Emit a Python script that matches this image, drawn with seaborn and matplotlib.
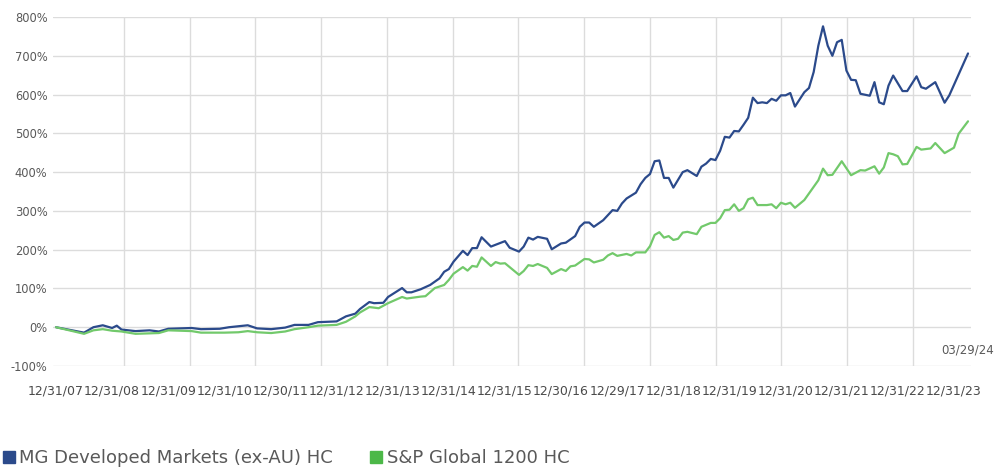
import numpy as np
import pandas as pd
from matplotlib import pyplot as plt
from matplotlib.lines import Line2D
from matplotlib.ticker import FuncFormatter
import seaborn as sns

sns.set_theme(style="white")
plt.rcParams['font.family'] = ['DejaVu Sans']

# months since 12/31/07, cumulative return in %
mg_month = [0, 6, 8, 10, 12, 13, 14, 17, 20, 22, 24, 29, 31, 35, 37, 41, 43, 46, 49, 51,
            54, 56, 60, 62, 64, 65, 67, 68, 70, 71, 74, 75, 76, 78, 80, 82, 83, 84, 85, 87,
            88, 89, 90, 91, 93, 96, 97, 99, 100, 101, 102, 103, 105, 106, 108, 109, 111, 112, 113, 114,
            115, 117, 119, 120, 121, 122, 124, 125, 126, 127, 128, 129, 130, 131, 132, 134, 135, 137, 138, 139,
            140, 141, 142, 143, 144, 145, 146, 147, 148, 149, 150, 151, 152, 153, 154, 155, 156, 157, 158, 160,
            161, 162, 163, 164, 165, 166, 167, 168, 169, 170, 171, 172, 174, 175, 176, 177, 178, 179, 181, 182,
            184, 185, 186, 188, 190, 191, 195]
mg_value = [0, -14, 0, 5, -2, 4, -6, -10, -8, -11, -4, -2, -5, -4, 0, 5, -3, -5, -1, 6,
            6, 13, 15, 28, 35, 47, 65, 62, 63, 78, 101, 90, 90, 98, 109, 126, 143, 150, 169, 197,
            186, 204, 204, 232, 208, 222, 205, 195, 208, 231, 226, 233, 228, 201, 216, 218, 235, 259, 270, 270,
            259, 276, 302, 300, 319, 332, 347, 369, 385, 395, 428, 430, 385, 385, 360, 400, 405, 390, 414, 422,
            434, 431, 455, 491, 489, 506, 505, 522, 540, 592, 578, 580, 578, 589, 584, 598, 598, 604, 569, 606,
            617, 658, 726, 776, 726, 700, 735, 741, 662, 638, 637, 602, 597, 632, 580, 575, 623, 649, 609, 609,
            647, 619, 615, 632, 579, 598, 706]

sp_month = [0, 6, 8, 10, 12, 14, 17, 22, 24, 29, 31, 36, 39, 41, 43, 46, 49, 51, 54, 56,
            60, 62, 64, 65, 67, 69, 71, 74, 75, 78, 79, 81, 83, 84, 85, 87, 88, 89, 90, 91,
            93, 94, 95, 96, 97, 99, 100, 101, 102, 103, 105, 106, 108, 109, 110, 111, 113, 114, 115, 117,
            118, 119, 120, 122, 123, 124, 126, 127, 128, 129, 130, 131, 132, 133, 134, 135, 137, 138, 140, 141,
            142, 143, 144, 145, 146, 147, 148, 149, 150, 151, 152, 153, 154, 155, 156, 157, 158, 160, 161, 163,
            164, 165, 166, 168, 170, 172, 173, 175, 176, 177, 178, 179, 180, 181, 182, 184, 185, 187, 188, 190,
            192, 193, 195]
sp_value = [0, -17, -8, -5, -9, -11, -17, -15, -8, -10, -14, -14, -13, -10, -13, -15, -11, -5, 0, 4,
            6, 14, 28, 38, 52, 49, 62, 78, 74, 79, 80, 101, 109, 122, 138, 155, 146, 158, 156, 180,
            158, 168, 164, 165, 155, 135, 145, 160, 158, 163, 153, 137, 150, 145, 157, 159, 176, 175, 167, 174,
            185, 191, 184, 189, 185, 193, 193, 209, 238, 245, 231, 235, 225, 228, 244, 246, 240, 259, 269, 269,
            281, 302, 303, 317, 300, 307, 330, 334, 315, 315, 315, 317, 307, 321, 317, 321, 308, 328, 345, 379,
            409, 392, 393, 428, 392, 405, 404, 415, 396, 412, 449, 446, 441, 420, 421, 465, 458, 461, 475, 449,
            463, 499, 531]

tick_labels = ['12/31/07', '12/31/08', '12/31/09', '12/31/10', '12/30/11', '12/31/12', '12/31/13',
               '12/31/14', '12/31/15', '12/30/16', '12/29/17', '12/31/18', '12/31/19', '12/31/20',
               '12/31/21', '12/31/22', '12/31/23']
names = ['MG Developed Markets (ex-AU) HC', 'S&P Global 1200 HC']
line_colors = ['#2b4a8b', '#72c96b']
legend_colors = ['#2b4a8b', '#4cb848']

df = pd.concat([
    pd.DataFrame({'month': mg_month, 'value': mg_value, 'series': names[0]}),
    pd.DataFrame({'month': sp_month, 'value': sp_value, 'series': names[1]}),
])

fig = plt.figure(figsize=(9.96, 4.75), dpi=100)
ax = fig.add_axes([53 / 996, 1 - 366 / 475, 918 / 996, 349 / 475])

sns.lineplot(data=df, x='month', y='value', hue='series', palette=line_colors,
             estimator=None, linewidth=1.6, legend=False, ax=ax)

ax.set_xlim(-0.64, 195.64)
ax.set_ylim(-100, 800)
ax.set_yticks(range(-100, 801, 100))
ax.yaxis.set_major_formatter(FuncFormatter(lambda v, p: f'{v:.0f}%'))
ax.set_xticks([12 * i for i in range(len(tick_labels))])
ax.set_xticklabels(tick_labels)
ax.set_xticks(np.arange(14.5, 190, 14.06), minor=True)

ax.grid(axis='y', color='#dcdcdc', linewidth=1.0)
ax.grid(axis='x', which='minor', color='#dcdcdc', linewidth=1.0)
ax.set_axisbelow(True)
for s in ax.spines.values():
    s.set_visible(False)
ax.tick_params(axis='y', length=0, pad=4, labelsize=8.3, labelcolor='#595959')
ax.tick_params(axis='x', which='both', length=0, pad=13, labelsize=9, labelcolor='#4a4a4a')
ax.set_xlabel('')
ax.set_ylabel('')

fig.text(0.998, 1 - 350 / 475, '03/29/24', ha='right', va='center', fontsize=8.5, color='#595959')

handles = [Line2D([], [], marker='s', linestyle='none', markersize=8, color=c) for c in legend_colors]
fig.legend(handles, names, loc='lower left', bbox_to_anchor=(-0.005, 0.0), ncol=2, frameon=False,
           borderaxespad=0.05, handlelength=0.6, handletextpad=0.3, columnspacing=2.1,
           prop={'size': 13}, labelcolor='#595959')

fig.savefig('out.png', dpi=100)
